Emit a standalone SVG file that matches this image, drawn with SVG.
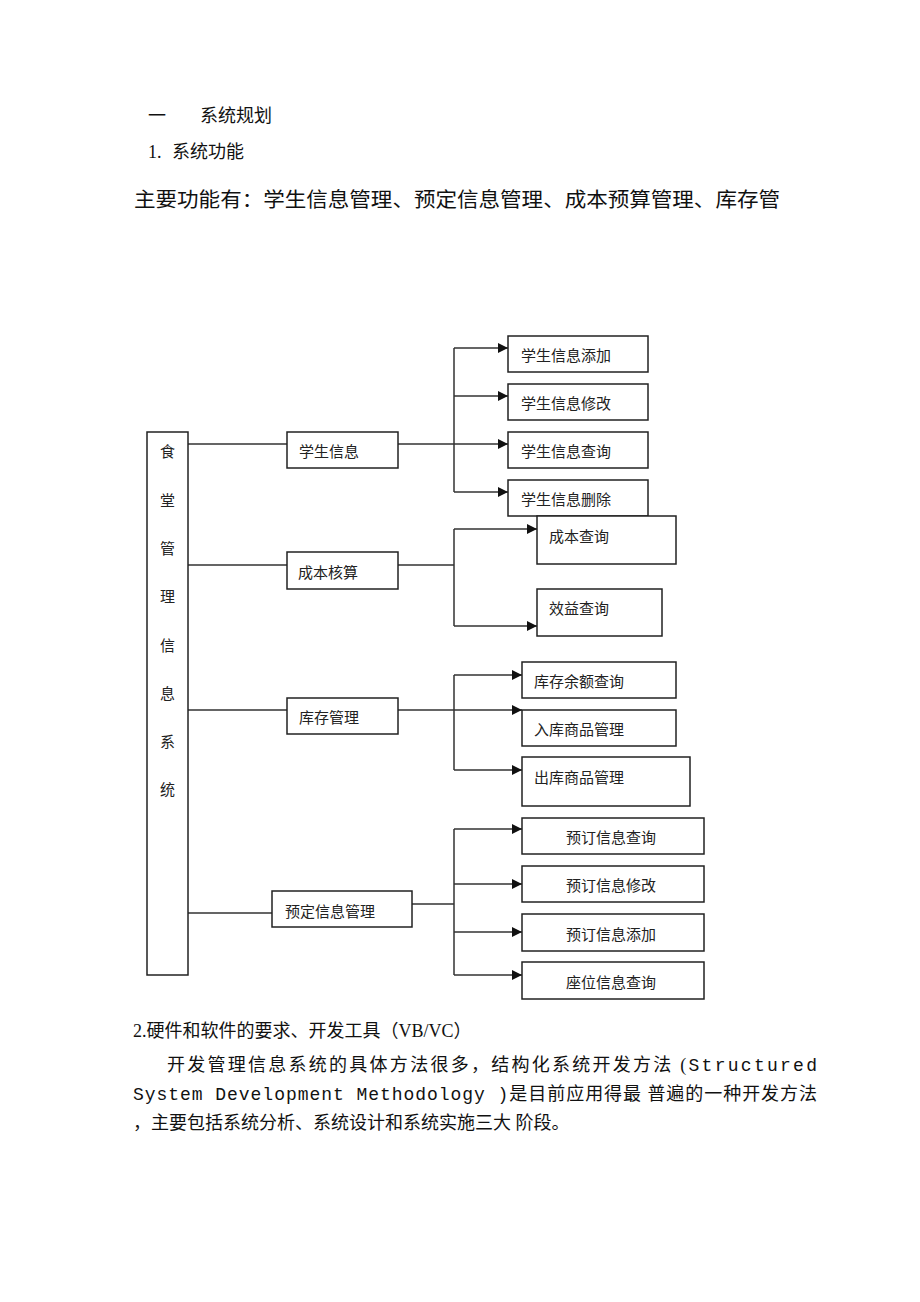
<svg xmlns="http://www.w3.org/2000/svg" width="920" height="1302" viewBox="0 0 920 1302">
<defs>
<style>
.t{font-family:"Liberation Serif","Noto Sans CJK SC",serif;fill:#111}
.b{fill:#fff;stroke:#222;stroke-width:1.5}
.n{font-family:"Liberation Serif","Noto Sans CJK SC",serif;font-size:15px;fill:#222}
.c{fill:none;stroke:#333;stroke-width:1.5}
</style>
<marker id="a" markerWidth="10" markerHeight="8" refX="9" refY="4" orient="auto" markerUnits="userSpaceOnUse"><path d="M0,0L10,4L0,8z" fill="#111"/></marker>
</defs>
<rect width="920" height="1302" fill="#fff"/>
<text class="t" x="148" y="122" font-size="18">一</text>
<text class="t" x="200" y="122" font-size="18">系统规划</text>
<text class="t" x="148" y="158" font-size="18">1.</text>
<text class="t" x="172" y="158" font-size="18">系统功能</text>
<text class="t" x="134" y="207" font-size="20" textLength="646" lengthAdjust="spacingAndGlyphs">主要功能有：学生信息管理、预定信息管理、成本预算管理、库存管</text>

<g id="connectors">
<path class="c" d="M188,444H287M398,444H508M454,348V492M454,348H508M454,396H508M454,492H508"/>
<path class="c" d="M188,565H287M398,565H454M454,529V626M454,529H537M454,626H537"/>
<path class="c" d="M188,710H287M398,710H522M454,675V770M454,675H522M454,770H522"/>
<path class="c" d="M188,913H272M412,904H454M454,829V975M454,829H522M454,884H522M454,932H522M454,975H522"/>
<g stroke="none" fill="#111">
<path d="M498,343L508,348L498,353z"/><path d="M498,391L508,396L498,401z"/><path d="M498,439L508,444L498,449z"/><path d="M498,487L508,492L498,497z"/>
<path d="M527,524L537,529L527,534z"/><path d="M527,621L537,626L527,631z"/>
<path d="M512,670L522,675L512,680z"/><path d="M512,705L522,710L512,715z"/><path d="M512,765L522,770L512,775z"/>
<path d="M512,824L522,829L512,834z"/><path d="M512,879L522,884L512,889z"/><path d="M512,927L522,932L512,937z"/><path d="M512,970L522,975L512,980z"/>
</g>
</g>

<g id="root"><rect class="b" x="147" y="432" width="41" height="543"/>
<g class="n" font-size="16"><text x="160" y="457">食</text><text x="160" y="506">堂</text><text x="160" y="554">管</text><text x="160" y="602">理</text><text x="160" y="651">信</text><text x="160" y="699">息</text><text x="160" y="747">系</text><text x="160" y="795">统</text></g></g>

<g id="n1"><rect class="b" x="287" y="432" width="111" height="36"/><text class="n" x="299" y="457">学生信息</text></g>
<g id="n11"><rect class="b" x="508" y="336" width="140" height="36"/><text class="n" x="521" y="361">学生信息添加</text></g>
<g id="n12"><rect class="b" x="508" y="384" width="140" height="36"/><text class="n" x="521" y="409">学生信息修改</text></g>
<g id="n13"><rect class="b" x="508" y="432" width="140" height="36"/><text class="n" x="521" y="457">学生信息查询</text></g>
<g id="n14"><rect class="b" x="508" y="480" width="140" height="36"/><text class="n" x="521" y="505">学生信息删除</text></g>

<g id="n2"><rect class="b" x="287" y="552" width="111" height="37"/><text class="n" x="298" y="578">成本核算</text></g>
<g id="n21"><rect class="b" x="537" y="516" width="139" height="48"/><text class="n" x="549" y="542">成本查询</text></g>
<g id="n22"><rect class="b" x="537" y="589" width="125" height="47"/><text class="n" x="549" y="614">效益查询</text></g>

<g id="n3"><rect class="b" x="287" y="698" width="111" height="36"/><text class="n" x="299" y="723">库存管理</text></g>
<g id="n31"><rect class="b" x="522" y="662" width="154" height="36"/><text class="n" x="534" y="687">库存余额查询</text></g>
<g id="n32"><rect class="b" x="522" y="710" width="154" height="36"/><text class="n" x="534" y="735">入库商品管理</text></g>
<g id="n33"><rect class="b" x="522" y="757" width="168" height="49"/><text class="n" x="534" y="783">出库商品管理</text></g>

<g id="n4"><rect class="b" x="272" y="891" width="140" height="36"/><text class="n" x="285" y="917">预定信息管理</text></g>
<g id="n41"><rect class="b" x="522" y="818" width="182" height="36"/><text class="n" x="566" y="843">预订信息查询</text></g>
<g id="n42"><rect class="b" x="522" y="866" width="182" height="36"/><text class="n" x="566" y="891">预订信息修改</text></g>
<g id="n43"><rect class="b" x="522" y="914" width="182" height="37"/><text class="n" x="566" y="940">预订信息添加</text></g>
<g id="n44"><rect class="b" x="522" y="962" width="182" height="37"/><text class="n" x="566" y="988">座位信息查询</text></g>

<text class="t" x="133" y="1037" font-size="18">2.硬件和软件的要求、开发工具（VB/VC）</text>
<text class="t" x="167" y="1071" font-size="18" textLength="650" lengthAdjust="spacing">开发管理信息系统的具体方法很多，结构化系统开发方法  (<tspan font-family="Liberation Mono,monospace">Structured</tspan></text>
<text class="t" x="133" y="1100" font-size="18" textLength="684" lengthAdjust="spacing"><tspan font-family="Liberation Mono,monospace">System Development Methodology )</tspan>是目前应用得最 普遍的一种开发方法</text>
<text class="t" x="133" y="1129" font-size="18">，主要包括系统分析、系统设计和系统实施三大 阶段。</text>
</svg>
